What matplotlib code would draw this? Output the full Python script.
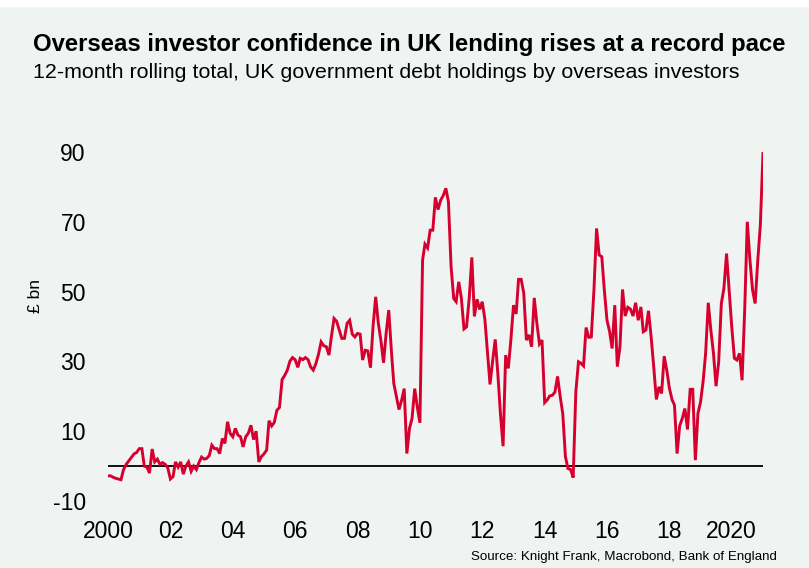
import matplotlib
matplotlib.use("Agg")
import matplotlib.pyplot as plt
from matplotlib.patches import Rectangle
import pandas as pd

plt.rcParams['font.family'] = ['Liberation Sans', 'DejaVu Sans']

# 12-month rolling total, £bn, monthly from Jan 2000
values = [
    -2.8, -2.8, -3.2, -3.5, -3.7, -3.9, -1.0, 0.5, 1.5, 2.5, 3.5, 3.9,
    5.0, 5.0, 0.0, -0.3, -2.0, 4.9, 1.2, 2.0, 0.5, 1.0, 0.5, -0.5,
    -3.7, -3.0, 1.2, -0.3, 1.2, -2.3, 0.0, 1.2, -1.5, 0.0, -1.0, 1.0,
    2.6, 2.0, 2.2, 3.0, 6.0, 5.0, 5.0, 3.6, 7.9, 6.5, 12.7, 9.4,
    8.4, 10.8, 8.9, 8.4, 5.5, 8.4, 9.4, 11.7, 7.6, 10.0, 1.2, 2.7,
    3.5, 4.6, 13.0, 11.5, 12.5, 16.0, 16.8, 24.8, 26.0, 27.5, 30.1, 31.1,
    30.5, 28.3, 30.9, 30.5, 31.1, 30.5, 28.4, 27.5, 29.4, 32.0, 35.6, 34.5,
    34.2, 31.8, 37.0, 42.3, 41.5, 39.0, 36.6, 36.6, 40.9, 41.8, 37.8, 37.0,
    38.0, 37.8, 30.4, 33.2, 33.0, 28.2, 40.0, 48.5, 40.9, 36.0, 29.6, 38.0,
    44.7, 33.0, 23.7, 19.9, 16.2, 18.9, 22.2, 3.6, 10.8, 13.7, 22.2, 17.0,
    12.4, 59.0, 63.6, 62.5, 67.6, 67.6, 77.0, 73.5, 76.2, 77.5, 79.6, 75.7,
    57.1, 48.0, 47.1, 52.8, 48.2, 39.3, 39.9, 48.0, 59.8, 42.9, 47.8, 44.9,
    47.1, 42.0, 33.0, 23.4, 30.0, 36.3, 26.7, 15.0, 5.7, 31.8, 28.0, 36.1,
    46.1, 43.6, 53.5, 53.5, 49.6, 36.1, 37.6, 34.2, 48.2, 41.1, 35.0, 36.1,
    18.2, 19.0, 20.1, 20.3, 21.2, 25.7, 20.1, 15.0, 2.7, -0.7, -1.0, -3.3,
    21.3, 29.9, 29.5, 28.7, 39.7, 36.9, 37.0, 50.4, 68.1, 60.5, 60.0, 50.4,
    41.8, 38.5, 33.7, 46.1, 28.5, 34.2, 50.6, 43.0, 45.5, 45.0, 43.0, 46.8,
    41.8, 45.6, 38.5, 39.0, 44.5, 37.0, 28.5, 19.1, 22.7, 20.8, 31.5, 27.5,
    22.3, 19.0, 17.5, 3.6, 11.5, 13.7, 16.5, 10.5, 22.0, 22.0, 1.7, 15.1,
    18.4, 24.6, 32.3, 46.8, 39.0, 32.3, 22.9, 29.9, 46.6, 50.9, 60.9, 50.4,
    39.9, 30.9, 30.4, 32.3, 24.6, 45.0, 70.0, 59.0, 50.4, 46.6, 59.0, 69.1,
    89.8,
]
start = "2000-01-01"
tick_years = [2000, 2002, 2004, 2006, 2008, 2010, 2012, 2014, 2016, 2018, 2020]
tick_labels = ["2000", "02", "04", "06", "08", "10", "12", "14", "16", "18", "2020"]
y_ticks = [-10, 10, 30, 50, 70, 90]

title = "Overseas investor confidence in UK lending rises at a record pace"
subtitle = "12-month rolling total, UK government debt holdings by overseas investors"
source = "Source: Knight Frank, Macrobond, Bank of England"

dates = pd.date_range(start, periods=len(values), freq="MS")

W, H = 809, 568
bg = "#eff3f2"
fig = plt.figure(figsize=(W / 100, H / 100), dpi=100, facecolor=bg)
fig.patches.append(Rectangle((0, 1 - 6 / H), 1, 6 / H, transform=fig.transFigure,
                             color="white", zorder=0))

ax = fig.add_axes([108 / W, (H - 501) / H, (763 - 108) / W, (501 - 152) / H])
ax.set_facecolor("none")
ax.plot(dates, values, color="#d6002f", lw=2.1, solid_joinstyle="miter", zorder=3)
ax.axhline(0, color="black", lw=1.3, zorder=2)

ax.set_xlim(dates[0], dates[-1])
ax.set_ylim(-10, 90)
ax.set_yticks(y_ticks)
ax.set_yticklabels([str(v) for v in y_ticks])
ax.set_xticks([pd.Timestamp(f"{y}-01-01") for y in tick_years])
ax.set_xticklabels(tick_labels)
ax.tick_params(axis="both", length=0, labelsize=16.5, colors="black")
ax.tick_params(axis="y", pad=16)
ax.tick_params(axis="x", pad=14)
for s in ax.spines.values():
    s.set_visible(False)

ax.set_ylabel("£ bn", fontsize=12.5, labelpad=0)
ax.yaxis.set_label_coords((43 - 108) / (763 - 108), (501 - 296) / (501 - 152))

fig.text(33 / W, 1 - 45 / H, title, fontsize=17.2, fontweight="bold", va="center", ha="left")
fig.text(33 / W, 1 - 73 / H, subtitle, fontsize=15.4, va="center", ha="left")
fig.text(777 / W, 1 - 557 / H, source, fontsize=9.6, va="center", ha="right")

fig.savefig("out.png", dpi=100, facecolor=bg)
